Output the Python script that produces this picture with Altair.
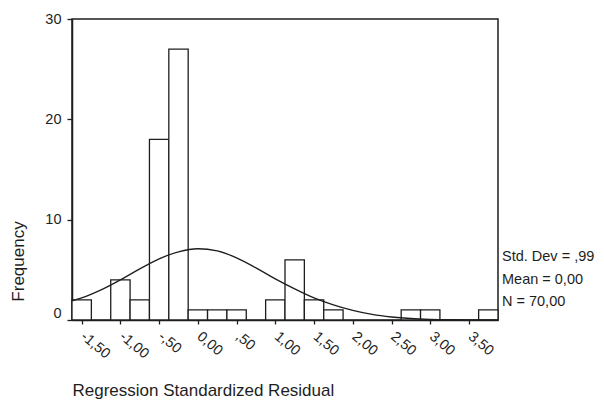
import altair as alt
import pandas as pd

# ---- data ----
bin_mid = [-1.50, -1.25, -1.00, -0.75, -0.50, -0.25, 0.00, 0.25, 0.50, 0.75, 1.00,
           1.25, 1.50, 1.75, 2.00, 2.25, 2.50, 2.75, 3.00, 3.25, 3.50, 3.75]
freq = [2, 0, 4, 2, 18, 27, 1, 1, 1, 0, 2, 6, 2, 1, 0, 0, 0, 1, 1, 0, 0, 1]
bin_width = 0.25

curve_x = [-1.625, -1.50, -1.25, -1.00, -0.75, -0.50, -0.25, 0.00, 0.25, 0.50, 0.75,
           1.00, 1.25, 1.50, 1.75, 2.00, 2.25, 2.50, 2.75, 3.00, 3.25, 3.50, 3.75, 3.875]
curve_y = [1.9, 2.2, 3.0, 4.0, 5.1, 6.1, 6.8, 7.1, 6.9, 6.2, 5.2,
           4.1, 3.1, 2.2, 1.5, 0.95, 0.55, 0.3, 0.15, 0.07, 0.03, 0.01, 0.0, 0.0]

tick_values = [-1.5, -1.0, -0.5, 0.0, 0.5, 1.0, 1.5, 2.0, 2.5, 3.0, 3.5]
tick_labels = ["-1,50", "-1,00", "-,50", "0,00", ",50", "1,00", "1,50", "2,00",
               "2,50", "3,00", "3,50"]
y_ticks = [0, 10, 20, 30]
stats_lines = ["Std. Dev = ,99", "Mean = 0,00", "N = 70,00"]
x_title = "Regression Standardized Residual"
y_title = "Frequency"

# ---- tables ----
bars_df = pd.DataFrame({
    "mid": bin_mid,
    "freq": freq,
})
bars_df["lo"] = bars_df["mid"] - bin_width / 2
bars_df["hi"] = bars_df["mid"] + bin_width / 2
bars_df["base"] = 0
bars_df = bars_df[bars_df["freq"] > 0]

curve_df = pd.DataFrame({"x": curve_x, "y": curve_y})

FONT = "Liberation Sans"
INK = "#1e1e1e"
W, H = 426, 301

label_expr = ("[" + ",".join("'%s'" % t for t in tick_labels) + "][indexof(["
              + ",".join(str(v) for v in tick_values) + "], datum.value)]")

x_scale = alt.Scale(domain=[bin_mid[0] - bin_width / 2, bin_mid[-1] + bin_width / 2],
                    nice=False, zero=False)
y_scale = alt.Scale(domain=[0, 30], nice=False)

x_axis = alt.Axis(
    values=tick_values, labelExpr=label_expr, labelAngle=40,
    labelAlign="left", labelBaseline="top", labelPadding=5, labelOffset=5,
    labelFontSize=14.5, labelFont=FONT, labelColor=INK,
    tickSize=4, tickColor=INK, tickWidth=1.3,
    domainColor=INK, domainWidth=1.5, grid=False,
    title=x_title, titleFont=FONT, titleFontSize=17, titleFontWeight="normal",
    titleColor=INK, titleX=0, titleY=75, titleAlign="left",
    titleBaseline="alphabetic", labelOverlap=False,
)
y_axis = alt.Axis(
    values=y_ticks, labelFontSize=14.5, labelFont=FONT, labelColor=INK,
    labelPadding=6, tickSize=5, tickColor=INK, tickWidth=1.3,
    labelBaseline={"condition": {"test": "datum.value === 0", "value": "bottom"},
                   "value": "middle"},
    domainColor=INK, domainWidth=1.5, grid=False,
    title=y_title, titleFont=FONT, titleFontSize=17, titleFontWeight="normal",
    titleColor=INK, titleX=-53.5, titleY=242, titleAngle=270,
    titleAlign="center", titleBaseline="middle",
)

bars = alt.Chart(bars_df).mark_rect(fill="white", stroke=INK, strokeWidth=1.3).encode(
    x=alt.X("lo:Q", scale=x_scale, axis=x_axis),
    x2="hi:Q",
    y=alt.Y("freq:Q", scale=y_scale, axis=y_axis),
    y2="base:Q",
)

curve = alt.Chart(curve_df).mark_line(color=INK, strokeWidth=1.3,
                                      interpolate="monotone").encode(
    x=alt.X("x:Q", scale=x_scale),
    y=alt.Y("y:Q", scale=y_scale),
)

stat_y = [238, 261, 282.5]
texts = []
for line, yy in zip(stats_lines, stat_y):
    texts.append(
        alt.Chart(pd.DataFrame({"t": [line]})).mark_text(
            align="left", baseline="middle", font=FONT, fontSize=14.5, color=INK
        ).encode(x=alt.value(W + 4), y=alt.value(yy), text="t:N")
    )

chart = alt.layer(bars, curve, *texts).properties(
    width=W, height=H,
    autosize=alt.AutoSizeParams(type="none"),
    padding={"left": 64, "top": 11, "right": 98, "bottom": 81},
    background="white",
).configure_view(stroke=INK, strokeWidth=1.5)

chart.save("out.html", embed_options={"renderer": "svg", "actions": False})
